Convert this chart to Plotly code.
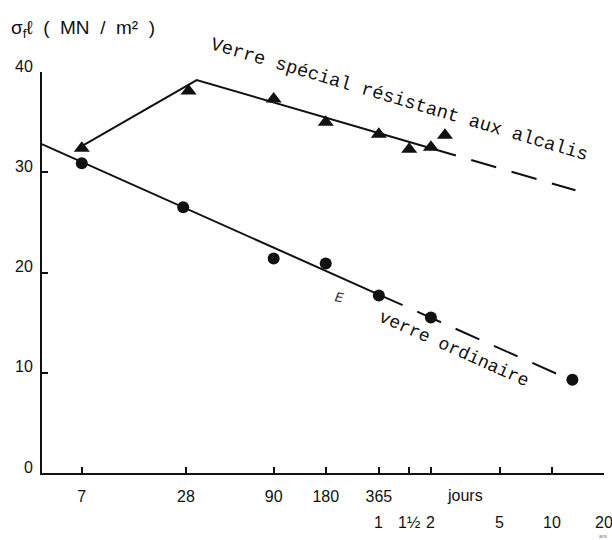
import math
import plotly.graph_objects as go

# ---- data ----
tri_days = [7, 29, 90, 180, 365, 547, 730, 880]
tri_vals = [32.4, 38.1, 37.3, 35.0, 33.8, 32.3, 32.5, 33.7]

circ_days = [7, 27, 90, 180, 365, 730, 4800]
circ_vals = [30.9, 26.5, 21.4, 20.9, 17.7, 15.5, 9.3]

# fitted trend lines (solid part, dashed extrapolation)
tri_fit_solid_x = [7, 32.3, 730]
tri_fit_solid_y = [32.6, 39.2, 32.4]
tri_fit_dash_x = [730, 5000]
tri_fit_dash_y = [32.4, 28.2]

circ_fit_solid_x = [4.11, 365]
circ_fit_solid_y = [32.8, 17.8]
circ_fit_dash_x = [365, 4800]
circ_fit_dash_y = [17.8, 9.2]

day_ticks = [7, 28, 90, 180, 365, 547, 730, 1825, 3650, 7300]
day_labels = ["7", "28", "90", "180", "365", " ", " ", " ", " ", " "]
year_ticks = [1, 1.5, 2, 5, 10, 20]
year_labels = ["1", "1½", "2", "5", "10", "20"]
y_ticks = [0, 10, 20, 30, 40]

INK = "#111111"
FONT = "Liberation Sans"
MONO = "Liberation Mono"

fig = go.Figure()

def line(x, y, dash):
    fig.add_trace(go.Scatter(x=x, y=y, mode="lines",
                             line=dict(color=INK, width=2, dash=dash),
                             hoverinfo="skip", showlegend=False, cliponaxis=False))

line(tri_fit_solid_x, tri_fit_solid_y, "solid")
line(tri_fit_dash_x, tri_fit_dash_y, "26px,16px")
line(circ_fit_solid_x, circ_fit_solid_y, "solid")
line(circ_fit_dash_x, circ_fit_dash_y, "26px,16px")

fig.add_trace(go.Scatter(x=tri_days, y=tri_vals, mode="markers",
                         marker=dict(symbol="triangle-up", size=14, color=INK),
                         showlegend=False, cliponaxis=False))
fig.add_trace(go.Scatter(x=circ_days, y=circ_vals, mode="markers",
                         marker=dict(symbol="circle", size=12, color=INK),
                         showlegend=False, cliponaxis=False))

ann = []
# second row of x labels: years
for yv, lab in zip(year_ticks, year_labels):
    ann.append(dict(x=math.log10(yv * 365), y=-0.124, xref="x", yref="paper",
                    yanchor="middle", text=lab, showarrow=False,
                    font=dict(family=FONT, size=16, color=INK)))
ann.append(dict(x=math.log10(7300), y=-0.158, xref="x", yref="paper", yanchor="middle",
                text="ans", showarrow=False, font=dict(family=FONT, size=5, color="#777")))
ann.append(dict(x=math.log10(1146), y=-0.055, xref="x", yref="paper", yanchor="middle",
                text="jours", showarrow=False, font=dict(family=FONT, size=16, color=INK)))
ann.append(dict(x=math.log10(482), y=37.2, xref="x", yref="y",
                text="Verre spécial résistant aux alcalis", textangle=16.5,
                showarrow=False, font=dict(family=MONO, size=18.7, color=INK)))
ann.append(dict(x=math.log10(989), y=12.4, xref="x", yref="y",
                text="verre ordinaire", textangle=24,
                showarrow=False, font=dict(family=MONO, size=18, color=INK)))
ann.append(dict(x=math.log10(217), y=17.5, xref="x", yref="y",
                text="<i>E</i>", textangle=10,
                showarrow=False, font=dict(family=MONO, size=14, color="#333")))
ann.append(dict(x=-0.058, y=1.107, xref="paper", yref="paper", xanchor="left", yanchor="middle",
                text="σ<sub>f</sub>ℓ  (  MN  /  m²  )", showarrow=False,
                font=dict(family=FONT, size=19, color=INK)))

fig.update_layout(
    width=612, height=540,
    margin=dict(l=42, r=6, t=72, b=67),
    paper_bgcolor="white", plot_bgcolor="white",
    annotations=ann,
    showlegend=False,
)
fig.update_xaxes(type="log", range=[0.615, 3.864],
                 tickvals=day_ticks, ticktext=day_labels,
                 ticks="inside", ticklen=6, tickwidth=1.5, tickcolor=INK,
                 showline=True, linecolor=INK, linewidth=2,
                 showgrid=False, zeroline=False,
                 ticklabelstandoff=8,
                 tickfont=dict(family=FONT, size=16, color=INK))
fig.update_yaxes(range=[0, 40], tickvals=y_ticks,
                 ticks="inside", ticklen=6, tickwidth=1.5, tickcolor=INK,
                 showline=True, linecolor=INK, linewidth=2,
                 showgrid=False, zeroline=False,
                 ticklabelshift=-6, ticklabelstandoff=4,
                 tickfont=dict(family=FONT, size=16, color=INK))

fig.write_html("out.html")
